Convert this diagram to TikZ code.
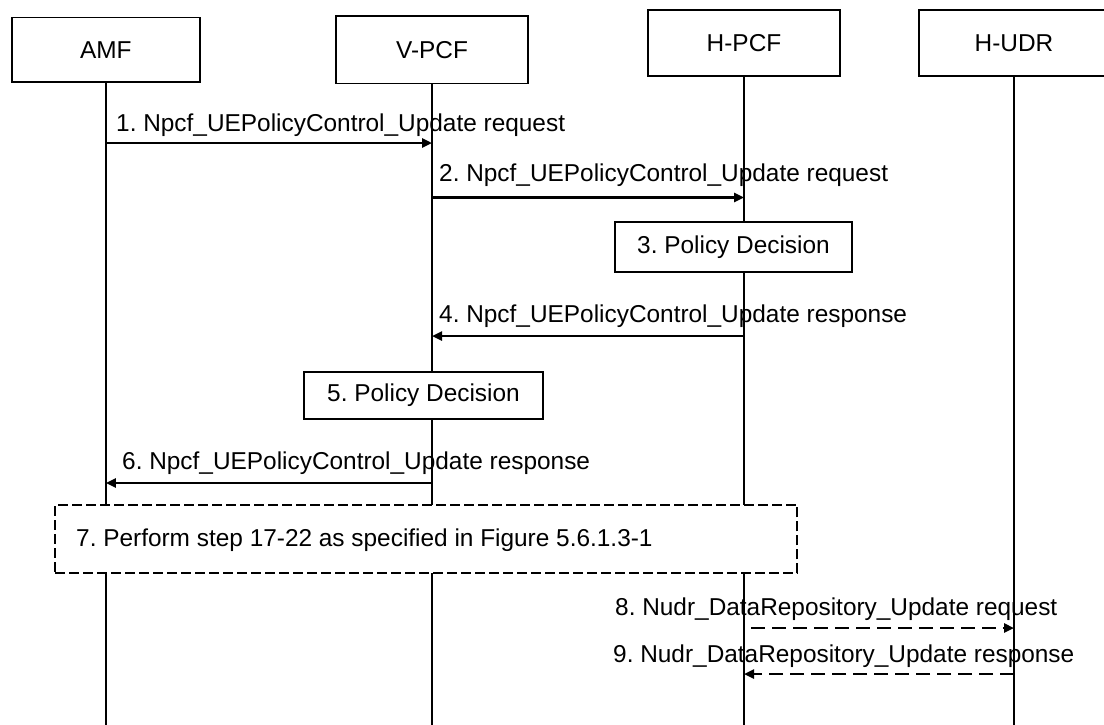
\documentclass[tikz,border=0pt]{standalone}
\usepackage{fontspec}
\setmainfont{Liberation Sans}
\usetikzlibrary{arrows.meta}
\begin{document}
\frenchspacing
\begin{tikzpicture}[x=1pt,y=-1pt,
  every node/.style={font=\fontsize{24.4}{29}\selectfont, inner sep=0pt},
  entity/.style={draw, line width=1.6pt, fill=white},
  decision/.style={draw, line width=1.6pt, fill=white},
  grouped/.style={draw, line width=1.6pt, fill=white, dash pattern=on 10pt off 4pt},
  lifeline/.style={line width=1.6pt},
  msg/.style={line width=2.4pt, -{Triangle[length=10pt,width=9pt]}},
  dmsg/.style={msg, dash pattern=on 14pt off 7pt, dash phase=14pt},
  dmsgb/.style={msg, dash pattern=on 14pt off 7pt},
  lbl/.style={anchor=base west}]
\useasboundingbox (0,0) rectangle (1104,724);
\fill[white] (0,0) rectangle (1104,724);
\clip (0,0) rectangle (1104,724);

% participants
\node[entity, minimum width=188pt, minimum height=64.5pt] (amf) at (105.8,49.8) {AMF};
\node[entity, minimum width=192pt, minimum height=67.5pt] (vpcf) at (432,49.7) {V-PCF};
\node[entity, minimum width=192pt, minimum height=66pt] (hpcf) at (744,43) {H-PCF};
\node[entity, minimum width=190pt, minimum height=66pt] (hudr) at (1014,43) {H-UDR};

% lifeline ends
\coordinate (amfE) at (amf |- 0,730);
\coordinate (vpcfE) at (vpcf |- 0,730);
\coordinate (hpcfE) at (hpcf |- 0,730);
\coordinate (hudrE) at (hudr |- 0,730);
\draw[lifeline] (amf.south) -- (amfE);
\draw[lifeline] (vpcf.south) -- (vpcfE);
\draw[lifeline] (hpcf.south) -- (hpcfE);
\draw[lifeline] (hudr.south) -- (hudrE);

% 1
\draw[msg] (amf |- 0,143) -- (vpcf |- 0,143);
\node[lbl] (l1) at (116,131) {1. Npcf\_UEPolicyControl\_Update request};
% 2
\draw[msg] (vpcf |- 0,197.5) -- (hpcf |- 0,197.5);
\node[lbl] (l2) at (439,181.5) {2. Npcf\_UEPolicyControl\_Update request};
% 3
\node[decision, minimum width=237pt, minimum height=50pt] (d3) at (733.5,247) {3. Policy Decision};
% 4
\draw[msg] (hpcf |- 0,336) -- (vpcf |- 0,336);
\node[lbl] (l4) at (439,322) {4. Npcf\_UEPolicyControl\_Update response};
% 5
\node[decision, minimum width=239pt, minimum height=47pt] (d5) at (423.5,395.5) {5. Policy Decision};
% 6
\draw[msg] (vpcf |- 0,483) -- (amf |- 0,483);
\node[lbl] (l6) at (122,469) {6. Npcf\_UEPolicyControl\_Update response};
% 7
\node[grouped, minimum width=742pt, minimum height=68.5pt] (g7) at (426,539) {};
\node[lbl] (l7) at (76,546) {7. Perform step 17-22 as specified in Figure 5.6.1.3-1};
% 8
\draw[dmsg] (hpcf |- 0,628) -- (hudr |- 0,628);
\node[lbl] (l8) at (615,615) {8. Nudr\_DataRepository\_Update request};
% 9
\draw[dmsgb] (hudr |- 0,674) -- (hpcf |- 0,674);
\node[lbl] (l9) at (613,662) {9. Nudr\_DataRepository\_Update response};
\end{tikzpicture}
\end{document}
